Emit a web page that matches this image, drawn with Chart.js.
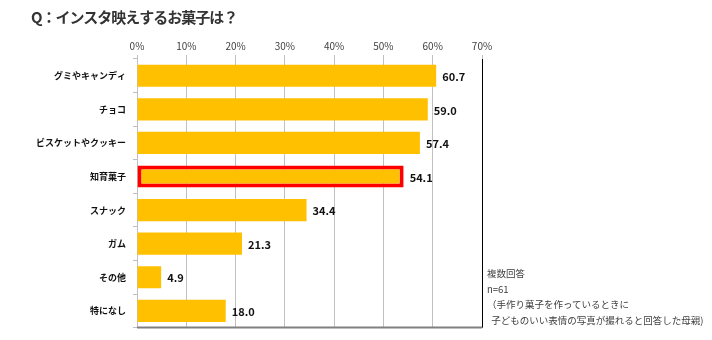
<!DOCTYPE html>
<html>
<head>
<meta charset="utf-8">
<script src="https://cdn.jsdelivr.net/npm/chart.js@4"></script>
<style>
  body { margin: 0; background: #fff; }
  #wrap { position: relative; width: 712px; height: 340px; }
  #title { position: absolute; left: 31px; top: 6px; font: bold 15px "Noto Sans CJK JP", sans-serif; color: #333; white-space: nowrap; letter-spacing: -1px; }
  #note { position: absolute; left: 487px; top: 266px; font: 9.5px "Noto Sans CJK JP", sans-serif; color: #404040; line-height: 15.7px; white-space: nowrap; }
</style>
</head>
<body>
<div id="wrap">
  <canvas id="myCanvas" width="712" height="340"></canvas>
  <div id="title">Q：インスタ映えするお菓子は？</div>
  <div id="note">複数回答<br>n=61<br>（手作り菓子を作っているときに<br>&nbsp;&nbsp;子どものいい表情の写真が撮れると回答した母親)</div>
</div>
<script>
// 回答データ
const labels = ["グミやキャンディ", "チョコ", "ビスケットやクッキー", "知育菓子", "スナック", "ガム", "その他", "特になし"];
const dataValues = [60.7, 59.0, 57.4, 54.1, 34.4, 21.3, 4.9, 18.0];
const highlight = "知育菓子";

const font = '"Noto Sans CJK JP", sans-serif';

// 数値ラベル + 枠線
const extras = {
    id: "extras",
    afterDatasetsDraw(chart) {
        const ctx = chart.ctx;
        const area = chart.chartArea;
        ctx.save();
        ctx.font = "bold 11px " + font;
        ctx.fillStyle = "#111";
        ctx.textBaseline = "middle";
        chart.getDatasetMeta(0).data.forEach((bar, i) => {
            ctx.fillText(dataValues[i].toFixed(1), bar.x + 6, bar.y + 1);
        });
        // bottom + right lines
        ctx.strokeStyle = "#808080";
        ctx.lineWidth = 2;
        ctx.beginPath();
        ctx.moveTo(area.left, area.bottom);
        ctx.lineTo(area.right, area.bottom);
        ctx.stroke();
        ctx.strokeStyle = "#000";
        ctx.lineWidth = 1;
        ctx.beginPath();
        ctx.moveTo(area.right + 0.5, area.top);
        ctx.lineTo(area.right + 0.5, area.bottom);
        ctx.stroke();
        ctx.restore();
    }
};

const ctx = document.getElementById("myCanvas").getContext("2d");

new Chart(ctx, {
    type: "bar",
    data: {
        labels: labels,
        datasets: [{
            data: dataValues,
            backgroundColor: "#FFC000",
            borderColor: labels.map(l => l === highlight ? "#FF0000" : "#FFC000"),
            borderWidth: labels.map(l => l === highlight ? 4 : 0),
            borderSkipped: false,
            barPercentage: 0.66,
            categoryPercentage: 1,
        }],
    },
    plugins: [extras],
    options: {
        indexAxis: "y",
        responsive: false,
        animation: false,
        layout: { padding: { left: 0, right: 230, top: 0, bottom: 11 } },
        plugins: {
            legend: { display: false },
            tooltip: { enabled: false },
        },
        scales: {
            x: {
                position: "top",
                min: 0,
                max: 70,
                ticks: {
                    stepSize: 10,
                    callback: v => v + "%",
                    font: { family: font, size: 10 },
                    color: "#404040",
                    padding: 3,
                },
                grid: { color: "#c0c0c0", tickLength: 4 },
                border: { display: false },
                afterFit(scale) { scale.height = 59; },
            },
            y: {
                ticks: {
                    font: { family: font, size: 9, weight: "bold" },
                    color: "#111",
                    padding: 7,
                },
                grid: { offset: true, drawOnChartArea: false, tickLength: 4, color: "#c0c0c0" },
                border: { color: "#c0c0c0" },
                afterFit(scale) { scale.width = 137; },
            },
        },
    },
});
</script>
</body>
</html>
